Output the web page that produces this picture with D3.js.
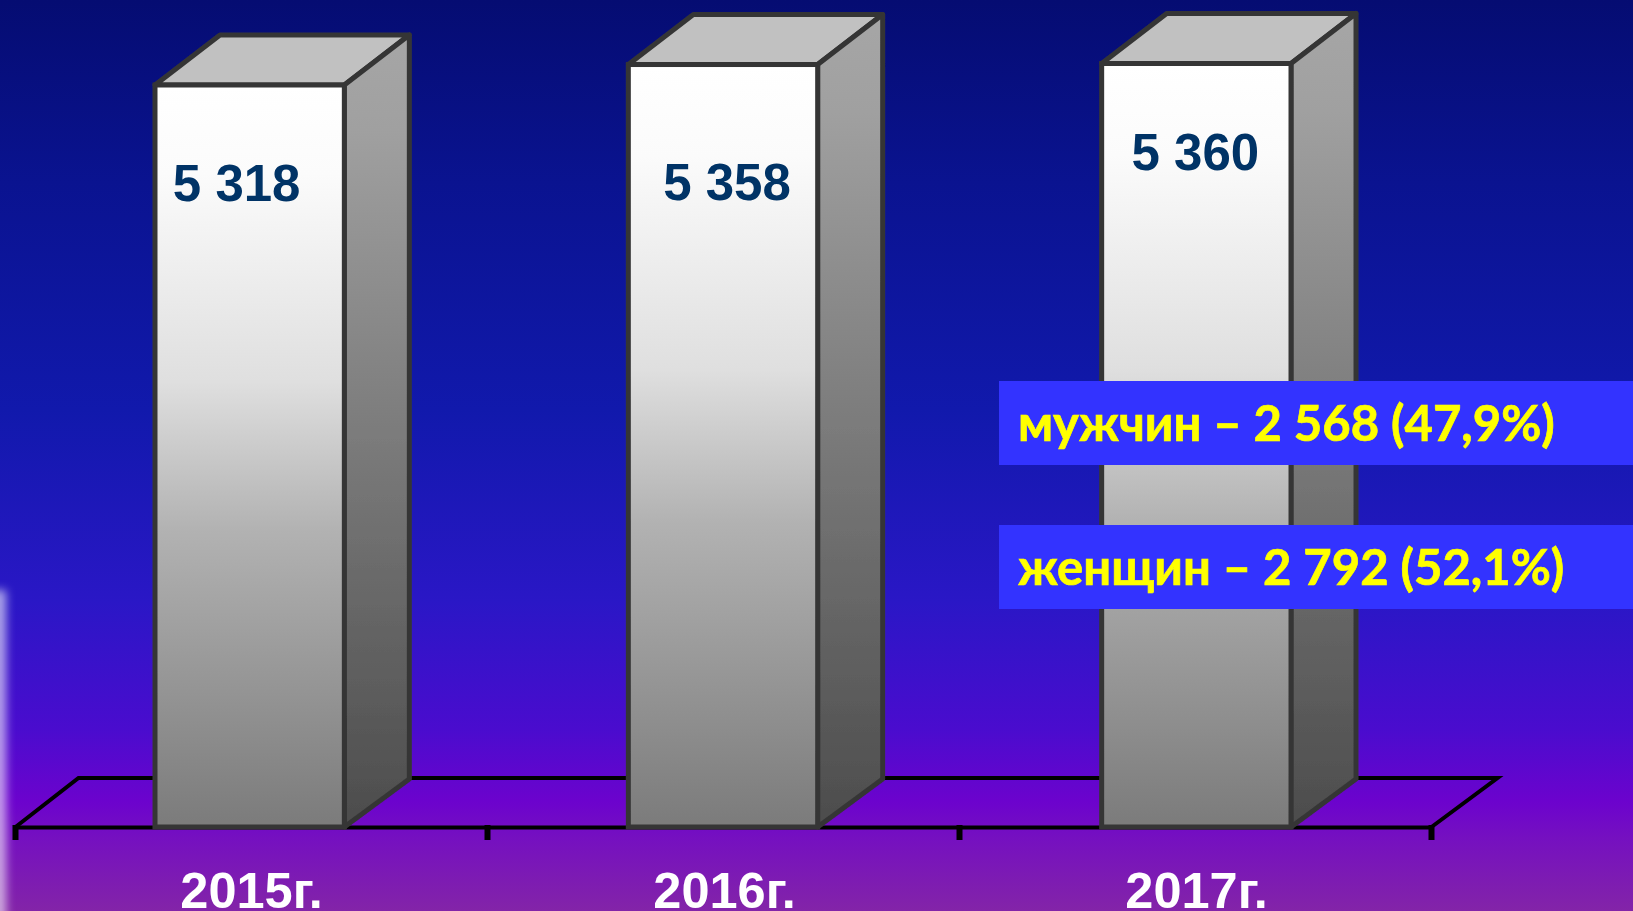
<!DOCTYPE html>
<html><head><meta charset="utf-8">
<script src="https://cdn.jsdelivr.net/npm/d3@7/dist/d3.min.js"></script>
<style>html,body{margin:0;padding:0;overflow:hidden;background:#000}svg{display:block}</style>
</head><body><svg id="c" width="1633" height="911"></svg>
<script>
const categories = ["2015г.", "2016г.", "2017г."];
const totals = [5318, 5358, 5360];
const totalLabels = ["5 318", "5 358", "5 360"];
const labelShift = [-13, 4, -1];
const labelBaselines = [201, 199.5, 170];
const callouts = ["мужчин – 2 568 (47,9%)", "женщин – 2 792 (52,1%)"];

const W = 1633, H = 911, base = 827, dx = 65, dy = 48, topDy = 50;
const svg = d3.select("#c");
const defs = svg.append("defs");

function grad(id, stops) {
  const g = defs.append("linearGradient").attr("id", id).attr("x1", 0).attr("x2", 0).attr("y1", 0).attr("y2", 1);
  stops.forEach(([o, c]) => g.append("stop").attr("offset", o).attr("stop-color", c));
}
grad("bg", [[0, "#050c72"], [0.2, "#0a1390"], [0.45, "#1119ac"], [0.66, "#2a17c6"], [0.8, "#4a0cce"], [0.88, "#6c03cd"], [0.92, "#7510c0"], [1, "#8324a8"]]);
grad("front", [[0, "#ffffff"], [0.12, "#fbfbfb"], [0.4, "#dfdfdf"], [0.6, "#b2b2b2"], [1, "#7b7b7b"]]);
grad("side", [[0, "#a6a6a6"], [0.12, "#a0a0a0"], [1, "#4c4c4c"]]);
defs.append("filter").attr("id", "glow").attr("x", "-300%").attr("width", "700%").attr("y", "-10%").attr("height", "120%")
  .append("feGaussianBlur").attr("stdDeviation", 5);
defs.append("filter").attr("id", "soft").append("feGaussianBlur").attr("stdDeviation", 0.6);

svg.append("rect").attr("width", W).attr("height", H).attr("fill", "url(#bg)");
svg.append("rect").attr("x", -8).attr("y", 590).attr("width", 14).attr("height", 360)
  .attr("fill", "#ffffff").attr("opacity", 0.62).attr("filter", "url(#glow)");

const xAxis = d3.scaleBand().domain(categories).range([15.5, 1431.5]).paddingInner(0.6).paddingOuter(0.3);
const x = d3.scaleBand().domain(categories).range([13, 1433]).paddingInner(0.6).paddingOuter(0.3);
const y = d3.scaleLinear().domain([3869, 5360]).range([base, 63.5]);

// floor
const xL = xAxis.range()[0], xR = xAxis.range()[1];
svg.append("path").attr("fill", "none").attr("stroke", "#000").attr("stroke-width", 4).attr("stroke-linejoin", "miter")
  .attr("d", d3.line()([[xL, base], [xL + dx - 2, base - dy - 1], [xR + dx + 1, base - dy - 1], [xR, base]]));

// axis
const axis = d3.axisBottom(xAxis).tickSize(0).tickPadding(0);
const ax = svg.append("g").attr("transform", `translate(0,${base})`).call(axis);
ax.select(".domain").attr("stroke", "#000").attr("stroke-width", 4);
ax.selectAll("text").attr("dy", 0).attr("y", 81).attr("fill", "#fff")
  .attr("dx", (c, i) => i ? 1 : 0)
  .attr("font-family", "'Liberation Sans'").attr("font-weight", 700).attr("font-size", 50.5);
ax.selectAll("line.edge").data(d3.range(categories.length + 1)).enter().append("line").attr("class", "edge")
  .attr("x1", i => xL + i * xAxis.step()).attr("x2", i => xL + i * xAxis.step())
  .attr("y1", -2).attr("y2", 13).attr("stroke", "#000").attr("stroke-width", 6);

// bars
const bars = svg.selectAll("g.bar").data(categories).enter().append("g").attr("class", "bar");
const sw = 5, edge = "#363636";
const shapes = bars.append("g").attr("filter", "url(#soft)");
shapes.append("path").attr("fill", "#c1c1c1").attr("stroke", edge).attr("stroke-width", sw).attr("stroke-linejoin", "round")
  .attr("d", (c, i) => { const a = x(c), b = a + x.bandwidth(), t = y(totals[i]);
    return d3.line()([[a, t], [a + dx, t - topDy], [b + dx, t - topDy], [b, t]]) + "Z"; });
shapes.append("path").attr("fill", "url(#side)").attr("stroke", edge).attr("stroke-width", sw).attr("stroke-linejoin", "round")
  .attr("d", (c, i) => { const b = x(c) + x.bandwidth(), t = y(totals[i]);
    return d3.line()([[b, t], [b + dx, t - topDy], [b + dx, base - dy], [b, base]]) + "Z"; });
shapes.append("rect").attr("fill", "url(#front)").attr("stroke", edge).attr("stroke-width", sw)
  .attr("x", c => x(c)).attr("width", x.bandwidth())
  .attr("y", (c, i) => y(totals[i])).attr("height", (c, i) => base - y(totals[i]));
bars.append("text").text((c, i) => totalLabels[i])
  .attr("x", (c, i) => x(c) + x.bandwidth() / 2 + labelShift[i])
  .attr("y", (c, i) => labelBaselines[i])
  .attr("text-anchor", "middle").attr("fill", "#003366")
  .attr("font-family", "'Liberation Sans'").attr("font-weight", 700).attr("font-size", 51);

// callouts
const boxTop = d3.scaleLinear().domain([0, 1]).range([381, 525]);
const co = svg.selectAll("g.callout").data(callouts).enter().append("g").attr("class", "callout");
co.append("rect").attr("x", 999).attr("width", W - 999).attr("y", (d, i) => boxTop(i)).attr("height", 84).attr("fill", "#3333ff");
co.append("text").text(d => d).attr("x", 1018).attr("y", (d, i) => boxTop(i) + 60)
  .attr("fill", "#ffff00").attr("stroke", "#ffff00").attr("stroke-width", 0.7)
  .attr("font-family", "Lato").attr("font-weight", 700).attr("font-size", 49);
</script></body></html>
